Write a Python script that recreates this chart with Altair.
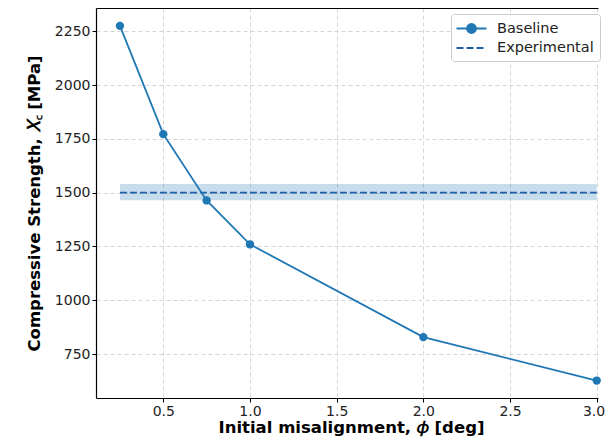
import altair as alt
import pandas as pd

# ---- data ----
phi = [0.25, 0.5, 0.75, 1.0, 2.0, 3.0]
xc_baseline = [2275, 1772, 1464, 1260, 829, 627]
exp_x_start = [0.25]
exp_x_end = [3.0]
exp_value = [1500]
exp_low = [1465]
exp_high = [1540]
series_names = ["Baseline", "Experimental"]
x_ticks = [0.5, 1.0, 1.5, 2.0, 2.5, 3.0]
y_ticks = [750, 1000, 1250, 1500, 1750, 2000, 2250]

base_df = pd.DataFrame({"phi": phi, "Xc": xc_baseline, "series": series_names[0]})
exp_df = pd.DataFrame({
    "x0": exp_x_start, "x1": exp_x_end, "y": exp_value,
    "lo": exp_low, "hi": exp_high, "series": [series_names[1]],
})

FONT = "DejaVu Sans"
BLUE = "#1f77b4"
DARK_BLUE = "#1f5fa8"
# view spans x = 96..598 px on the page (0.5 -> 163.3, 3.0 -> 596.7)
xscale = alt.Scale(domain=[0.1118, 3.0075], nice=False, zero=False)
yscale = alt.Scale(domain=[546, 2358], nice=False, zero=False)

LINE_DOT = "M-2,0L2,0M-0.6,0A0.6,0.6 0 1,0 0.6,0A0.6,0.6 0 1,0 -0.6,0"
LINE_ONLY = "M-2,0L2,0"

common_legend = dict(
    title=None,
    orient="none",
    legendX=355,
    legendY=6,
    symbolSize=225,
    symbolStrokeWidth=1.8,
    symbolOffset=6,
    labelFont=FONT,
    labelFontSize=14.5,
    labelColor="#222222",
    labelOffset=17,
    padding=6,
    cornerRadius=3,
)

# legend for Baseline (drawn on top, no frame)
legend_base = alt.Legend(
    **common_legend,
    symbolType=LINE_DOT,
    symbolFillColor=BLUE,
    symbolOpacity=1,
    strokeColor="transparent",
    zindex=2,
)

# legend for Experimental (draws the shared frame, blank title row on top)
legend_exp = alt.Legend(
    **{**common_legend, "title": " "},
    titleFontSize=13.5,
    titlePadding=6,
    symbolType=LINE_ONLY,
    symbolDash=[6, 3],
    symbolStrokeColor=DARK_BLUE,
    strokeColor="#cccccc",
    fillColor="white",
    zindex=1,
)

band = alt.Chart(exp_df).mark_rect(color=BLUE, opacity=0.25).encode(
    x=alt.X("x0:Q", scale=xscale,
            axis=alt.Axis(orient="top", labels=False, ticks=False, grid=False,
                          domain=True, title=None)),
    x2="x1",
    y=alt.Y("lo:Q", scale=yscale),
    y2="hi",
)

exp_line = alt.Chart(exp_df).mark_rule(strokeWidth=1.8, color=DARK_BLUE).encode(
    x=alt.X("x0:Q", scale=xscale, axis=None),
    x2="x1",
    y=alt.Y("y:Q", scale=yscale),
    strokeDash=alt.StrokeDash("series:N",
                              scale=alt.Scale(domain=[series_names[1]], range=[[7, 3]]),
                              legend=legend_exp),
)

base = alt.Chart(base_df).mark_line(
    strokeWidth=1.8,
    point=alt.OverlayMarkDef(size=70, filled=True, opacity=1),
).encode(
    x=alt.X("phi:Q", scale=xscale,
            axis=alt.Axis(values=x_ticks, format=".1f", grid=True,
                          labelFlush=3, labelFlushOffset=8,
                          title="Initial misalignment, 𝜙  [deg]", titlePadding=1,
                          titleX=255)),
    y=alt.Y("Xc:Q", scale=yscale,
            axis=alt.Axis(values=y_ticks, format="d", grid=True,
                          title="Compressive Strength, 𝑋꜀ [MPa]", titlePadding=12)),
    color=alt.Color("series:N",
                    scale=alt.Scale(domain=[series_names[0]], range=[BLUE]),
                    legend=legend_base),
)

chart = (
    alt.layer(band, exp_line, base)
    .resolve_axis(x="independent")
    .properties(
        width=502,
        height=390,
        autosize=alt.AutoSizeParams(type="none"),
        padding={"left": 88, "top": 0, "right": 8, "bottom": 40},
    )
    .configure_view(stroke=None)
    .configure_axis(
        domainColor="#000000",
        domainWidth=1.2,
        tickColor="#000000",
        tickSize=4,
        tickWidth=1,
        labelFont=FONT,
        labelFontSize=14,
        labelColor="#222222",
        labelPadding=2,
        titleFont=FONT,
        titleFontSize=16.5,
        titleFontWeight="bold",
        titleColor="#000000",
        gridColor="#cccccc",
        gridDash=[4, 3],
        gridWidth=0.8,
    )
)

chart.save("out.html", embed_options={"renderer": "svg", "actions": False})
